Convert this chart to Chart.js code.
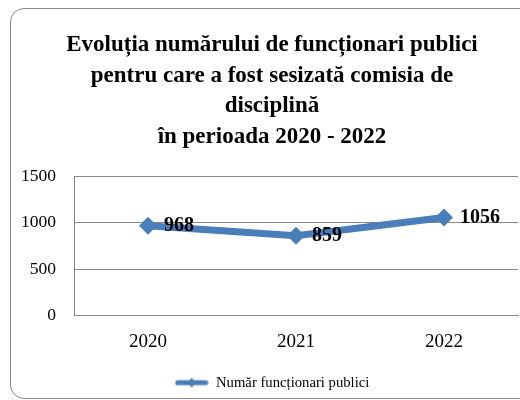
<!DOCTYPE html>
<html>
<head>
<meta charset="utf-8">
<script src="https://cdn.jsdelivr.net/npm/chart.js@4/dist/chart.umd.min.js"></script>
<style>
  html, body { margin: 0; padding: 0; background: #fff; overflow: hidden; }
  #wrap { position: relative; width: 520px; height: 400px; overflow: hidden; }
  #frame {
    position: absolute; left: 10px; top: 8px; width: 560px; height: 391px;
    border: 1px solid #8a8a8a; border-radius: 14px; box-sizing: border-box;
  }
  canvas { position: absolute; left: 0; top: 0; }
</style>
</head>
<body>
<div id="wrap">
  <div id="frame"></div>
  <!-- graficul original e mai lat decat imaginea, partea dreapta e taiata -->
  <canvas id="chart" width="544" height="400"></canvas>
</div>
<script>
const titleLines = [
    'Evoluția numărului de funcționari publici',
    'pentru care a fost sesizată comisia de',
    'disciplină',
    'în perioada 2020 - 2022'
];
const years = ['2020', '2021', '2022'];
const functionari = [968, 859, 1056];
const seriesName = 'Număr funcționari publici';

const blue = '#4a7ebb';
const serif = '"Liberation Serif", "Times New Roman", serif';

// mostra din legenda: linie cu romb la mijloc
function makeSwatch() {
    const c = document.createElement('canvas');
    c.width = 34; c.height = 12;
    const g = c.getContext('2d');
    g.strokeStyle = blue;
    g.lineWidth = 5;
    g.lineCap = 'round';
    g.beginPath();
    g.moveTo(3, 6); g.lineTo(31, 6);
    g.stroke();
    g.fillStyle = blue;
    g.beginPath();
    g.moveTo(17, 1); g.lineTo(21, 6); g.lineTo(17, 11); g.lineTo(13, 6);
    g.closePath();
    g.fill();
    return c;
}
const swatch = makeSwatch();

// valorile langa puncte
const valueLabels = {
    id: 'valueLabels',
    afterDatasetsDraw(chart) {
        const ctx = chart.ctx;
        const meta = chart.getDatasetMeta(0);
        ctx.save();
        ctx.font = 'bold 20px ' + serif;
        ctx.fillStyle = '#000';
        ctx.textAlign = 'left';
        ctx.textBaseline = 'middle';
        meta.data.forEach((pt, i) => {
            ctx.fillText(String(chart.data.datasets[0].data[i]), pt.x + 16, pt.y);
        });
        ctx.restore();
    }
};

const ctx = document.getElementById('chart').getContext('2d');
const chart = new Chart(ctx, {
    type: 'line',
    data: {
        labels: years,
        datasets: [{
            label: seriesName,
            data: functionari,
            borderColor: blue,
            backgroundColor: blue,
            borderWidth: 7,
            pointStyle: 'rectRot',
            pointRadius: 9,
            pointBackgroundColor: blue,
            pointBorderColor: blue,
            pointBorderWidth: 0,
            tension: 0,
            fill: false
        }]
    },
    options: {
        responsive: false,
        animation: false,
        layout: { padding: 0 },
        plugins: {
            tooltip: { enabled: false },
            title: {
                display: true,
                text: titleLines,
                color: '#000',
                font: { family: serif, size: 23, weight: 'bold', lineHeight: 1.33 },
                padding: { top: 30, bottom: 24 }
            },
            legend: {
                position: 'bottom',
                labels: {
                    color: '#000',
                    font: { family: serif, size: 14.7 },
                    usePointStyle: true,
                    pointStyleWidth: 34,
                    boxHeight: 12,
                    padding: 7,
                    generateLabels() {
                        return [{
                            text: seriesName,
                            pointStyle: swatch,
                            fillStyle: blue,
                            strokeStyle: blue,
                            lineWidth: 0,
                            datasetIndex: 0
                        }];
                    }
                }
            }
        },
        scales: {
            x: {
                offset: true,
                grid: { display: false, drawTicks: false },
                border: { display: true, color: '#868686', width: 1 },
                ticks: { color: '#000', font: { family: serif, size: 19 }, padding: 15 }
            },
            y: {
                min: 0,
                max: 1500,
                afterFit(scale) { scale.width = 74; },
                grid: { color: '#868686', drawTicks: false },
                border: { display: true, color: '#868686', width: 1 },
                ticks: {
                    color: '#000',
                    stepSize: 500,
                    font: { family: serif, size: 17.5 },
                    padding: 18,
                    callback: v => String(v)
                }
            },
            // spatiu gol in dreapta zonei de desen (titlul ramane centrat pe tot graficul)
            spacer: {
                type: 'linear',
                position: 'right',
                grid: { display: false, drawTicks: false },
                border: { display: false },
                ticks: { display: false },
                afterFit(scale) { scale.width = 26; }
            }
        }
    },
    plugins: [valueLabels]
});
</script>
</body>
</html>
